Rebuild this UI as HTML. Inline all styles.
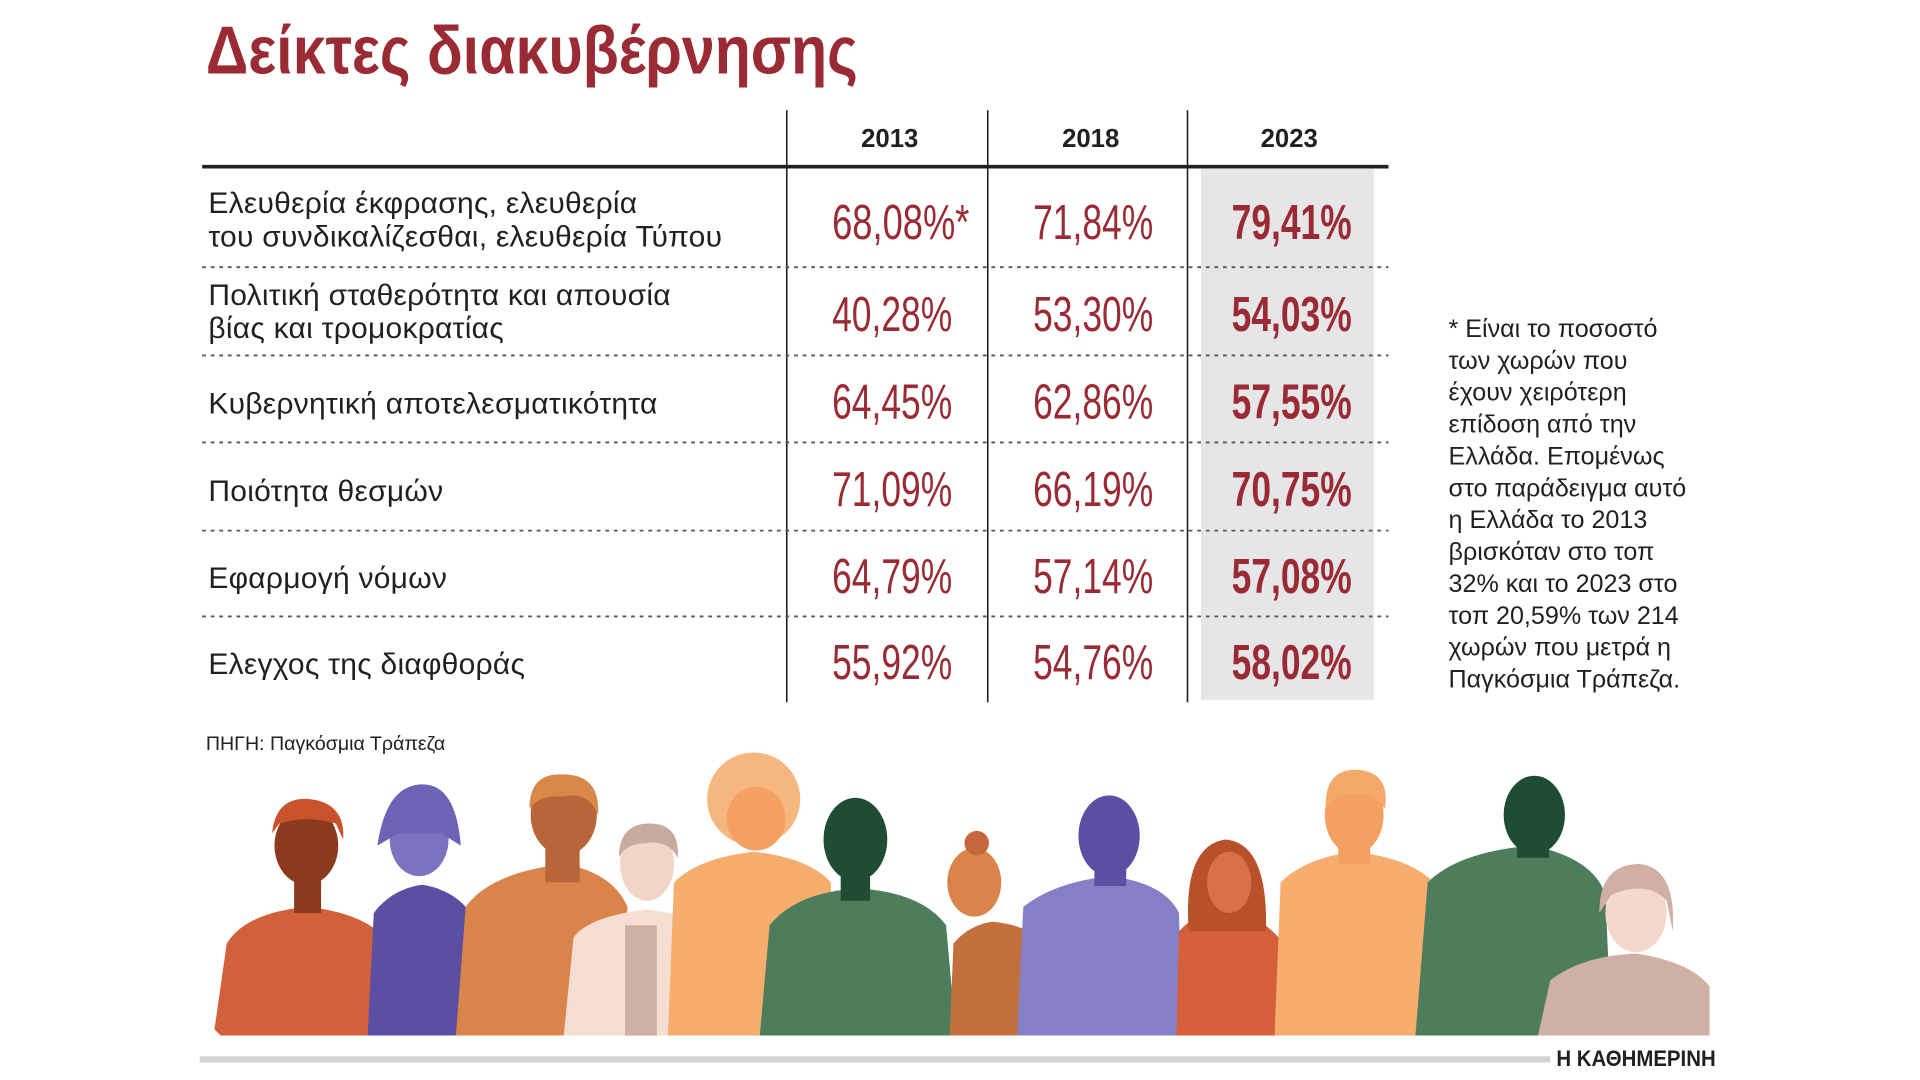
<!DOCTYPE html>
<html><head><meta charset="utf-8"><style>
html,body{margin:0;padding:0;background:#fff;width:1920px;height:1080px;overflow:hidden}
svg{display:block}
text{font-family:"Liberation Sans","DejaVu Sans",sans-serif}
.n{font-family:"Liberation Sans Narrow","Liberation Sans",sans-serif}
</style></head><body>
<svg id="chart" width="1920" height="1080" viewBox="0 0 1920 1080" xmlns="http://www.w3.org/2000/svg">
<g transform="scale(1.2255)" id="root">
<text x="168" y="60" class="n" font-size="55" font-weight="bold" fill="#9a2b34" textLength="532" lengthAdjust="spacingAndGlyphs">Δείκτες διακυβέρνησης</text>
<rect x="980" y="138" width="141" height="433" fill="#e6e6e8"/>
<line x1="165" y1="136" x2="1133" y2="136" stroke="#231f20" stroke-width="3"/>
<g id="vlines"></g>
<g id="header"></g>
<g id="rows"></g>
<g font-size="20.5" fill="#231f20">
<text x="1182" y="275">* Είναι το ποσοστό</text>
<text x="1182" y="301">των χωρών που</text>
<text x="1182" y="327">έχουν χειρότερη</text>
<text x="1182" y="353">επίδοση από την</text>
<text x="1182" y="379">Ελλάδα. Επομένως</text>
<text x="1182" y="405">στο παράδειγμα αυτό</text>
<text x="1182" y="431">η Ελλάδα το 2013</text>
<text x="1182" y="457">βρισκόταν στο τοπ</text>
<text x="1182" y="483">32% και το 2023 στο</text>
<text x="1182" y="509">τοπ 20,59% των 214</text>
<text x="1182" y="535">χωρών που μετρά η</text>
<text x="1182" y="561">Παγκόσμια Τράπεζα.</text>
</g>
<text x="168" y="612" font-size="16" fill="#231f20">ΠΗΓΗ: Παγκόσμια Τράπεζα</text>
<g>
<path d="M175,840 L185,770 Q200,745 250,740 Q300,745 318,770 L330,830 L315,835 L312,845 L180,845Z" fill="#d2603a"/>
<rect x="240" y="715" width="22" height="30" fill="#8b3a1e"/>
<ellipse cx="250" cy="690" rx="26" ry="32" fill="#8b3a1e"/>
<path d="M222,680 Q225,650 252,652 Q282,655 280,685 L274,672 Q250,665 228,672Z" fill="#c8522b"/>
<path d="M300,845 L305,745 Q320,725 345,722 Q380,728 392,760 L390,845Z" fill="#5a4fa3"/>
<ellipse cx="342" cy="685" rx="24" ry="30" fill="#7b73c0"/>
<path d="M308,690 Q315,640 345,640 Q372,640 376,690 L360,680 L325,680Z" fill="#6b63b5"/>
<path d="M372,845 L380,740 Q400,712 460,705 Q500,712 512,740 L510,845Z" fill="#d9844a"/>
<rect x="445" y="690" width="28" height="30" fill="#b8653a"/>
<ellipse cx="460" cy="665" rx="27" ry="33" fill="#b8653a"/>
<path d="M432,660 Q432,630 460,632 Q490,632 488,665 Q480,645 460,650 Q440,648 432,660Z" fill="#d88848"/>
<path d="M460,845 L468,765 Q480,748 528,742 Q575,748 590,765 L600,845Z" fill="#f6ddd2"/>
<rect x="510" y="755" width="26" height="90" fill="#cfb0a4"/>
<ellipse cx="528" cy="705" rx="22" ry="30" fill="#f3d5c8"/>
<path d="M505,700 Q505,672 530,672 Q555,672 553,700 Q545,685 528,688 Q510,688 505,700Z" fill="#c7aaa0"/>
<path d="M545,845 L550,720 Q570,700 615,695 Q660,700 678,720 L680,845Z" fill="#f7ad6e"/>
<circle cx="615" cy="652" r="38" fill="#f4a96a" opacity="0.85"/>
<ellipse cx="617" cy="668" rx="24" ry="26" fill="#f4a060"/>
<path d="M620,845 L628,755 Q650,728 700,725 Q752,728 772,755 L780,845Z" fill="#4e7d5c"/>
<ellipse cx="698" cy="685" rx="26" ry="34" fill="#1f4d33"/>
<rect x="686" y="710" width="24" height="25" fill="#1f4d33"/>
<path d="M775,845 L778,770 Q790,755 810,752 Q840,755 850,770 L852,845Z" fill="#c4703e"/>
<ellipse cx="795" cy="720" rx="22" ry="28" fill="#d9844a"/>
<circle cx="797" cy="688" r="10" fill="#c4683c"/>
<path d="M830,845 L835,740 Q860,720 905,715 Q950,720 962,745 L965,845Z" fill="#8580c5"/>
<rect x="893" y="695" width="26" height="28" fill="#5a4fa3"/>
<ellipse cx="905" cy="682" rx="25" ry="33" fill="#5a4fa3"/>
<path d="M960,845 L962,760 Q980,740 1005,742 Q1040,750 1060,790 L1060,845Z" fill="#d45f3a"/>
<path d="M970,760 Q965,690 1000,685 Q1035,688 1033,760Z" fill="#b8502a"/>
<ellipse cx="1003" cy="720" rx="18" ry="25" fill="#d9704a"/>
<path d="M1040,845 L1045,720 Q1065,700 1105,695 Q1150,700 1170,720 L1175,845Z" fill="#f7ad6e"/>
<rect x="1092" y="680" width="26" height="25" fill="#f4a060"/>
<ellipse cx="1105" cy="665" rx="24" ry="32" fill="#f4a060"/>
<path d="M1082,660 Q1080,628 1107,628 Q1135,630 1130,660 Q1120,645 1105,648 Q1090,646 1082,660Z" fill="#f4a96a"/>
<path d="M1155,845 L1165,720 Q1190,695 1250,690 Q1300,700 1310,730 L1315,845Z" fill="#4e7d5c"/>
<rect x="1238" y="675" width="26" height="25" fill="#1f4d33"/>
<ellipse cx="1252" cy="665" rx="25" ry="32" fill="#1f4d33"/>
<path d="M1255,845 L1265,800 Q1290,780 1335,778 Q1380,785 1395,805 L1395,845Z" fill="#cfb0a4"/>
<ellipse cx="1335" cy="745" rx="25" ry="32" fill="#f5d8cc"/>
<path d="M1305,745 Q1305,705 1338,705 Q1368,708 1365,760 L1360,735 Q1345,718 1315,730Z" fill="#d0b0a4"/>
</g>
<rect x="163" y="862" width="1102" height="5" fill="#d1d3d4"/>
<text x="1270" y="870" font-family="Liberation Serif,serif" font-size="18" font-weight="bold" fill="#231f20" textLength="130" lengthAdjust="spacingAndGlyphs">Η ΚΑΘΗΜΕΡΙΝΗ</text>
</g>
</svg>
<script>
const years = ["2013","2018","2023"];
const labels = [
  ["Ελευθερία έκφρασης, ελευθερία","του συνδικαλίζεσθαι, ελευθερία Τύπου"],
  ["Πολιτική σταθερότητα και απουσία","βίας και τρομοκρατίας"],
  ["Κυβερνητική αποτελεσματικότητα"],
  ["Ποιότητα θεσμών"],
  ["Εφαρμογή νόμων"],
  ["Ελεγχος της διαφθοράς"]
];
const values2013 = ["68,08%*","40,28%","64,45%","71,09%","64,79%","55,92%"];
const values2018 = ["71,84%","53,30%","62,86%","66,19%","57,14%","54,76%"];
const values2023 = ["79,41%","54,03%","57,55%","70,75%","57,08%","58,02%"];

const NS="http://www.w3.org/2000/svg";
const colX=[726,890,1052];
const rowEdges=[138,218,290,361,433,503,573];
function mk(tag,attrs,parent){const e=document.createElementNS(NS,tag);for(const k in attrs)e.setAttribute(k,attrs[k]);parent.appendChild(e);return e;}
const vl=document.getElementById('vlines');
[642,806,969].forEach(x=>{
  const l=mk('line',{x1:x,y1:90,x2:x,y2:573,stroke:'#231f20','stroke-width':1.3},vl);
  
  
});
const hd=document.getElementById('header');
years.forEach((y,i)=>{
  const t=mk('text',{x:colX[i],y:120,'text-anchor':'middle','font-size':21,'font-weight':'bold',fill:'#231f20'},hd);
  t.textContent=y;
  
  
});
const rg=document.getElementById('rows');
const series=[values2013,values2018,values2023];
labels.forEach((lab,r)=>{
  const top=rowEdges[r], bot=rowEdges[r+1];
  const cy=(top+bot)/2 + (r===0?1:0);
  if(r>0){
    const d=mk('line',{x1:165,y1:top,x2:1133,y2:top,stroke:'#555','stroke-width':1.5,'stroke-dasharray':'3 4'},rg);
    
    
  }
  const t=mk('text',{x:170,'font-size':24.5,fill:'#231f20','letter-spacing':0.2},rg);
  
  
  lab.forEach((line,j)=>{
    const yy = lab.length===2 ? cy-5+j*27 : cy+12;
    const s=mk('tspan',{x:170,y:yy},t); s.textContent=line;
  });
  series.forEach((vals,c)=>{
    const v=vals[r];
    const star=v.endsWith('*');
    const w=star?112:98;
    const tv=mk('text',{x:colX[c]-47,y:cy+16,class:'n','font-size':40,fill:'#9a2b34','font-weight':c===2?'bold':'normal',textLength:w,lengthAdjust:'spacingAndGlyphs'},rg);
    tv.textContent=v;
    
    
  });
});
</script>
</body></html>
